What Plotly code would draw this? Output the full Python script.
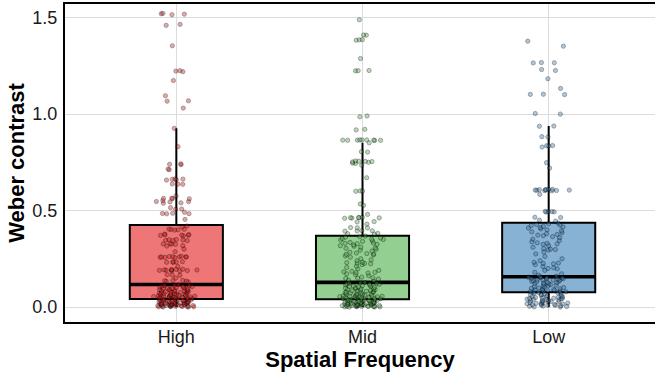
import plotly.graph_objects as go

categories = ["High", "Mid", "Low"]
box_fill = ["rgb(239,118,118)", "rgb(148,207,146)", "rgb(135,178,212)"]
point_fill = ["rgb(228,26,28)", "rgb(77,175,74)", "rgb(55,126,184)"]

q1_vals = [0.041, 0.040, 0.076]
median_vals = [0.117, 0.128, 0.157]
q3_vals = [0.425, 0.370, 0.437]
lower_fence = [0.0, 0.0, 0.0]
upper_fence = [0.926, 0.851, 0.938]

high_values = [
    1.52, 1.518, 1.515, 1.522, 1.465, 1.46, 1.354, 1.223, 1.22, 1.225, 1.174, 1.095, 1.069, 1.067, 1.031,
    0.926, 0.831, 0.742, 0.74, 0.738, 0.715, 0.712, 0.663, 0.662, 0.66, 0.664, 0.658, 0.637, 0.636, 0.638,
    0.576, 0.563, 0.562, 0.564, 0.561, 0.547, 0.546, 0.545, 0.54, 0.538, 0.552, 0.515, 0.508, 0.507,
    0.486, 0.485, 0.484, 0.483, 0.491, 0.454,
    0.404, 0.402, 0.40, 0.403, 0.399, 0.378, 0.375, 0.373, 0.371, 0.369, 0.376, 0.372, 0.35, 0.348, 0.346,
    0.345, 0.349, 0.344, 0.328, 0.326, 0.325, 0.327, 0.318, 0.316, 0.287, 0.262, 0.26, 0.259, 0.258, 0.261,
    0.257, 0.263, 0.256, 0.26, 0.259, 0.235, 0.233, 0.232, 0.234, 0.231, 0.195, 0.193, 0.192, 0.19, 0.188,
    0.194, 0.191, 0.189, 0.196, 0.187, 0.192, 0.168, 0.166, 0.165, 0.138, 0.136, 0.134, 0.133, 0.137, 0.13,
    0.42, 0.415, 0.30, 0.21, 0.15,
    0.116, 0.113, 0.111, 0.109, 0.108, 0.106, 0.104, 0.103, 0.101, 0.099, 0.098, 0.095, 0.094, 0.092, 0.09,
    0.089, 0.087, 0.086, 0.083, 0.082, 0.081, 0.079, 0.078, 0.076, 0.075, 0.073, 0.071, 0.07, 0.069, 0.067,
    0.066, 0.065, 0.063, 0.062, 0.061, 0.059, 0.058, 0.057, 0.056, 0.055, 0.054, 0.053, 0.052, 0.051, 0.05,
    0.049, 0.048, 0.047, 0.046, 0.045, 0.044, 0.043, 0.042, 0.112, 0.097, 0.084, 0.074, 0.064, 0.058, 0.05,
    0.041, 0.04, 0.039, 0.038, 0.037, 0.036, 0.035, 0.034, 0.033, 0.032, 0.031, 0.03, 0.029, 0.028, 0.027,
    0.026, 0.025, 0.024, 0.023, 0.022, 0.021, 0.02, 0.019, 0.018, 0.017, 0.016, 0.015, 0.014, 0.013, 0.012,
    0.011, 0.01, 0.009, 0.008, 0.007, 0.006, 0.005, 0.004, 0.003, 0.002, 0.001, 0.0, 0.036, 0.031, 0.026,
    0.021, 0.017, 0.013, 0.011, 0.008, 0.006, 0.004, 0.003, 0.002, 0.001, 0.0, 0.019, 0.024, 0.028, 0.009,
]

mid_values = [
    1.489, 1.409, 1.41, 1.386, 1.385, 1.383, 1.288, 1.226, 1.225, 1.224,
    0.99, 0.986, 0.921, 0.918, 0.866, 0.865, 0.864, 0.865, 0.866, 0.863, 0.864, 0.865, 0.866, 0.851,
    0.805, 0.803, 0.757, 0.756, 0.755, 0.754, 0.752, 0.75, 0.746, 0.744, 0.735, 0.67, 0.602, 0.6, 0.601,
    0.534, 0.527, 0.48, 0.465, 0.464, 0.463, 0.462, 0.461, 0.463, 0.46, 0.443, 0.441, 0.43,
    0.412, 0.411, 0.41, 0.396, 0.395, 0.394, 0.393, 0.382, 0.38, 0.378,
    0.368, 0.365, 0.362, 0.358, 0.355, 0.352, 0.35, 0.347, 0.343, 0.34, 0.335, 0.332, 0.33, 0.328, 0.325,
    0.322, 0.318, 0.315, 0.31, 0.306, 0.304, 0.3, 0.295, 0.29, 0.284, 0.28, 0.277, 0.275, 0.273, 0.27,
    0.265, 0.258, 0.25, 0.245, 0.24, 0.232, 0.23, 0.228, 0.226, 0.224, 0.22, 0.212, 0.205, 0.198, 0.19,
    0.185, 0.182, 0.18, 0.178, 0.176, 0.172, 0.168, 0.162, 0.155, 0.152, 0.15, 0.148, 0.145, 0.14, 0.135,
    0.127, 0.125, 0.123, 0.121, 0.119, 0.117, 0.115, 0.113, 0.111, 0.108, 0.106, 0.104, 0.102, 0.1, 0.098,
    0.096, 0.094, 0.092, 0.09, 0.088, 0.086, 0.084, 0.082, 0.08, 0.078, 0.077, 0.075, 0.073, 0.071, 0.069,
    0.067, 0.066, 0.064, 0.062, 0.061, 0.059, 0.058, 0.056, 0.055, 0.054, 0.052, 0.051, 0.05, 0.049, 0.048,
    0.047, 0.046, 0.045, 0.044, 0.043, 0.042, 0.041, 0.124, 0.109, 0.095, 0.083, 0.072, 0.063, 0.057, 0.053,
    0.04, 0.039, 0.038, 0.037, 0.036, 0.035, 0.034, 0.033, 0.032, 0.031, 0.03, 0.029, 0.028, 0.027, 0.026,
    0.025, 0.024, 0.023, 0.022, 0.021, 0.02, 0.019, 0.018, 0.017, 0.016, 0.015, 0.014, 0.013, 0.012, 0.011,
    0.01, 0.009, 0.008, 0.007, 0.006, 0.005, 0.004, 0.003, 0.002, 0.001, 0.0, 0.034, 0.029, 0.024, 0.02,
    0.016, 0.012, 0.009, 0.007, 0.005, 0.003, 0.002, 0.001, 0.0, 0.018, 0.022, 0.027, 0.014, 0.008, 0.004,
]

low_values = [
    1.378, 1.352, 1.266, 1.265, 1.267, 1.231, 1.226, 1.183, 1.133, 1.102, 1.101, 1.103, 1.003, 1.0,
    0.938, 0.937, 0.883, 0.881, 0.837, 0.836, 0.835, 0.829, 0.748, 0.72, 0.61, 0.608, 0.606, 0.605, 0.604,
    0.603, 0.607, 0.609, 0.61, 0.602, 0.606, 0.584, 0.494, 0.495, 0.493, 0.496, 0.492, 0.465, 0.464, 0.45, 0.445,
    0.435, 0.432, 0.428, 0.425, 0.422, 0.418, 0.415, 0.412, 0.41, 0.405, 0.4, 0.395, 0.39, 0.385, 0.38,
    0.376, 0.373, 0.37, 0.365, 0.36, 0.352, 0.345, 0.338, 0.333, 0.33, 0.327, 0.325, 0.318, 0.31, 0.303,
    0.3, 0.298, 0.295, 0.285, 0.275, 0.262, 0.25, 0.24, 0.232, 0.228, 0.226, 0.224, 0.22, 0.21, 0.203,
    0.2, 0.198, 0.19, 0.18, 0.172, 0.165, 0.16,
    0.156, 0.154, 0.153, 0.151, 0.149, 0.147, 0.145, 0.143, 0.141, 0.139, 0.137, 0.134, 0.131, 0.128, 0.126,
    0.124, 0.121, 0.118, 0.116, 0.113, 0.111, 0.108, 0.106, 0.103, 0.101, 0.099, 0.097, 0.095, 0.093, 0.091,
    0.089, 0.088, 0.086, 0.084, 0.083, 0.081, 0.08, 0.079, 0.078, 0.077, 0.152, 0.146, 0.14, 0.133, 0.122,
    0.075, 0.073, 0.071, 0.069, 0.067, 0.065, 0.063, 0.061, 0.059, 0.057, 0.055, 0.053, 0.051, 0.049, 0.047,
    0.045, 0.043, 0.041, 0.039, 0.037, 0.035, 0.033, 0.031, 0.029, 0.027, 0.025, 0.023, 0.021, 0.019, 0.017,
    0.015, 0.013, 0.011, 0.009, 0.007, 0.005, 0.003, 0.001, 0.052, 0.046, 0.04, 0.034, 0.028, 0.022, 0.016,
    0.012, 0.008, 0.004, 0.0, 0.044,
]

group_values = [high_values, mid_values, low_values]

FONT = "Liberation Sans, Arial, sans-serif"

fig = go.Figure()

# boxes (explicit statistics)
for i, cat in enumerate(categories):
    fig.add_trace(go.Box(
        x=[cat], q1=[q1_vals[i]], median=[median_vals[i]], q3=[q3_vals[i]],
        lowerfence=[lower_fence[i]], upperfence=[upper_fence[i]],
        fillcolor=box_fill[i], line=dict(color="black", width=2),
        whiskerwidth=0, boxpoints=False, showlegend=False, hoverinfo="skip",
    ))

# thicker median bars
for i, cat in enumerate(categories):
    fig.add_trace(go.Box(
        x=[cat], q1=[median_vals[i]], median=[median_vals[i]], q3=[median_vals[i]],
        lowerfence=[median_vals[i]], upperfence=[median_vals[i]],
        fillcolor="rgba(0,0,0,0)", line=dict(color="black", width=3.6),
        whiskerwidth=0, boxpoints=False, showlegend=False, hoverinfo="skip",
    ))

# jittered points; split into value bands so the library's density-scaled
# jitter spreads every part of the distribution about equally wide
for i, cat in enumerate(categories):
    vals = group_values[i]
    edges = [-1.0, q1_vals[i], median_vals[i], q3_vals[i], upper_fence[i], 99.0]
    for k in range(len(edges) - 1):
        band = [v for v in vals if edges[k] < v <= edges[k + 1]]
        if not band:
            continue
        fig.add_trace(go.Box(
            x=[cat] * len(band), y=band,
            boxpoints="all", jitter=0.5, pointpos=0,
            fillcolor="rgba(0,0,0,0)", line=dict(width=0, color="rgba(0,0,0,0)"),
            whiskerwidth=0,
            marker=dict(size=4.2, color=point_fill[i], opacity=0.42,
                        line=dict(color="black", width=0.9)),
            showlegend=False,
        ))

fig.update_layout(
    width=655, height=379,
    margin=dict(l=65, r=0, t=4, b=57),
    paper_bgcolor="white", plot_bgcolor="white",
    boxmode="overlay", boxgap=0.5, boxgroupgap=0,
    font=dict(family=FONT, color="#1a1a1a"),
    showlegend=False,
)

fig.update_xaxes(
    type="category", categoryorder="array", categoryarray=categories,
    range=[-0.598, 2.571],
    showgrid=True, gridcolor="#dcdcdc", gridwidth=1,
    showline=True, linecolor="black", linewidth=2, mirror=True,
    ticks="", tickfont=dict(size=18, family=FONT, color="#1a1a1a"),
    ticklabelstandoff=-3,
    title=dict(text="Spatial Frequency", standoff=0,
               font=dict(size=22, family=FONT, color="black", weight="bold")),
)

fig.update_yaxes(
    range=[-0.0776, 1.5706],
    tickvals=[0, 0.5, 1.0, 1.5], ticktext=["0.0", "0.5", "1.0", "1.5"],
    showgrid=True, gridcolor="#dcdcdc", gridwidth=1, zeroline=False,
    showline=True, linecolor="black", linewidth=2,
    ticks="", tickfont=dict(size=18, family=FONT, color="#1a1a1a"),
    ticklabelstandoff=2,
    title=dict(text="Weber contrast", standoff=2,
               font=dict(size=22, family=FONT, color="black", weight="bold")),
)

fig.write_html("out.html")
